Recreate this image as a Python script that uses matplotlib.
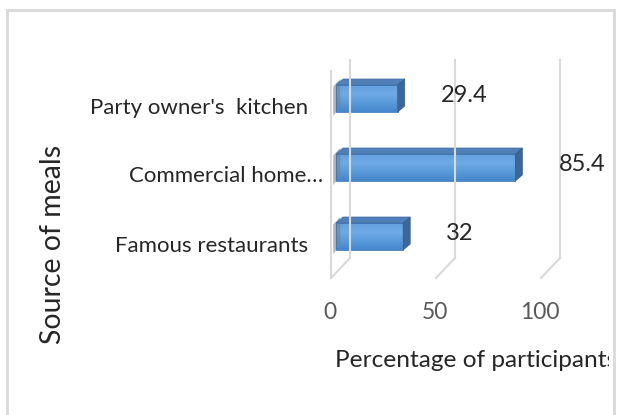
import matplotlib.pyplot as plt
import numpy as np
from matplotlib.patches import Polygon, Rectangle
from matplotlib.colors import LinearSegmentedColormap
from matplotlib.transforms import Bbox

plt.rcParams['font.family'] = ['Lato', 'DejaVu Sans']

# data
categories = ["Famous restaurants", "Commercial home\u2026", "Party owner's  kitchen"]
values = [32, 85.4, 29.4]
value_labels = ["32", "85.4", "29.4"]
xticks = [0, 50, 100]
x_label = "Percentage of participants"
y_label = "Source of meals"

W, H = 617, 415
PX = 2.1     # pixels per percent
PY = 69.0    # pixels per category step
X0 = 336     # pixel column of 0 on the bar fronts
Y0 = 236.5   # pixel row of the first category

fig = plt.figure(figsize=(W / 100, H / 100), dpi=100)
fig.patch.set_facecolor('white')

# outer chart border
fig.patches.append(Rectangle((7 / W, -0.1), (614 - 7) / W, 1 - 10 / H + 0.1,
                             transform=fig.transFigure, fill=False,
                             edgecolor='#d9d9d9', lw=2))

ax = fig.add_axes([300 / W, 1 - 300 / H, 312 / W, 260 / H])

# walls / gridlines of the 3d box
grid_c = '#d9d9d9'
back_dx = (350 - X0) / PX
front_dx = (331 - X0) / PX
back_floor = (Y0 - 258) / PY
front_floor = (Y0 - 278) / PY
wall_top = (Y0 - 60) / PY
side_top = (Y0 - 71) / PY
for t in xticks:
    ax.plot([t + back_dx, t + back_dx], [back_floor, wall_top], color=grid_c, lw=1.5)
    ax.plot([t + back_dx, t + front_dx], [back_floor, front_floor], color=grid_c, lw=1.5)
ax.plot([front_dx, front_dx], [front_floor, side_top], color=grid_c, lw=1.5)

# bars
h = 13.5 / PY
bdx = 7 / PX
bdy = 6 / PY
cmap = LinearSegmentedColormap.from_list('bar', ['#4586cc', '#5a9ad9', '#6eaae6', '#62a0de'])
grad = np.linspace(0, 1, 64).reshape(-1, 1)
for i, v in enumerate(values):
    sh = Polygon([(-1.3, i - h - 0.06), (-1.3, i + h - 0.02), (bdx - 1.3, i + h + bdy),
                  (bdx - 1.3, i - h + bdy)], closed=True, fc='#808080', ec='none', alpha=0.6)
    ax.add_patch(sh)
    front = Rectangle((0, i - h), v, 2 * h, fc='none', ec='#3f78b5', lw=0.6)
    ax.add_patch(front)
    im = ax.imshow(grad, extent=[0, v, i - h, i + h], origin='lower', cmap=cmap,
                   aspect='auto', interpolation='bilinear')
    im.set_clip_path(front)
    top = Polygon([(0, i + h), (v, i + h), (v + bdx, i + h + bdy), (bdx, i + h + bdy)],
                  closed=True, fc='#5080b8', ec='#3f6ea3', lw=0.5)
    ax.add_patch(top)
    side = Polygon([(v, i - h), (v, i + h), (v + bdx, i + h + bdy), (v + bdx, i - h + bdy)],
                   closed=True, fc='#3b689c', ec='#335d8e', lw=0.5)
    ax.add_patch(side)
    ax.text(v + 20.5, i + 0.04, value_labels[i], ha='left', va='center',
            fontsize=17, color='#262626')
    # truncated label: its ellipsis runs past the others
    right = 323 if categories[i].endswith('\u2026') else 308
    ax.text((right - X0) / PX, i - 15 / PY, categories[i], ha='right', va='baseline',
            fontsize=16, color='#262626')

for t in xticks:
    ax.text(t + (330 - X0) / PX, (Y0 - 312.5) / PY, str(t), ha='center', va='center',
            fontsize=16.5, color='#595959')

ax.set_xlim((300 - X0) / PX, (612 - X0) / PX)
ax.set_ylim((Y0 - 300) / PY, (Y0 - 40) / PY)
ax.axis('off')

# axis title runs into the chart border, as in the original
xl = fig.text(335 / W, 1 - 367 / H, x_label, ha='left', va='baseline',
              fontsize=17.6, color='#262626')
xl.set_clip_box(Bbox.from_extents(0, 0, 609, H))
xl.set_clip_on(True)
fig.text(53 / W, 1 - 244 / H, y_label, rotation=90, ha='center', va='center',
         fontsize=20.5, color='#262626')

fig.savefig('out.png', dpi=100)
